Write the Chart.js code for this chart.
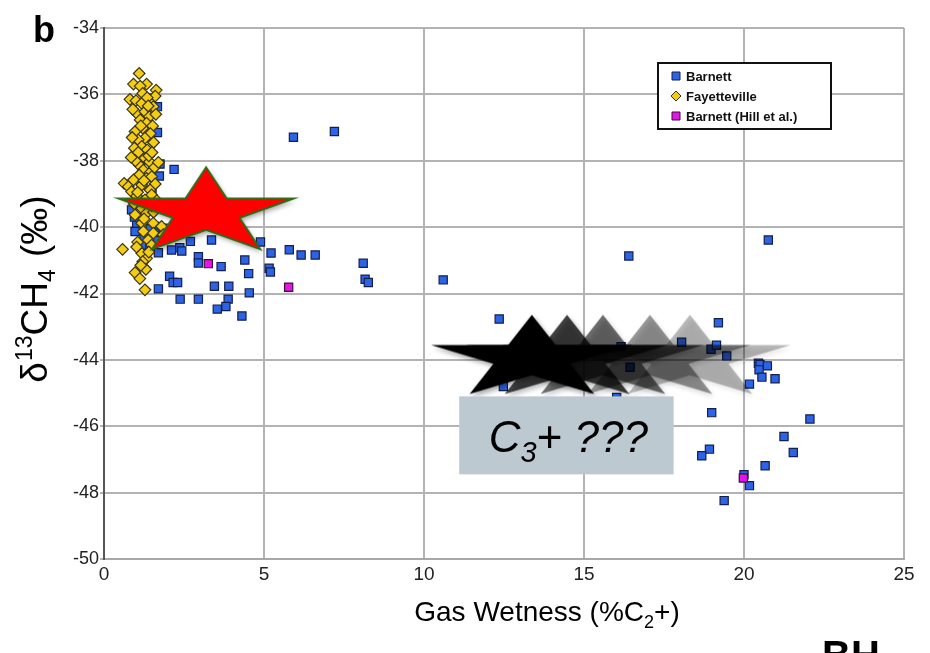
<!DOCTYPE html>
<html>
<head>
<meta charset="utf-8">
<script src="https://cdn.jsdelivr.net/npm/chart.js@4.4.0/dist/chart.umd.min.js"></script>
<style>
  html, body { margin: 0; padding: 0; background: #fff; }
  #wrap { width: 930px; height: 653px; }
</style>
</head>
<body>
<div id="wrap"><canvas id="chart" width="930" height="653"></canvas></div>
<script>
// Barnett shale samples: gas wetness (%C2+) and d13C of methane
const barnettWetness = [1.67, 1.67, 5.92, 7.20, 1.75, 2.19, 1.73, 0.86, 1.02, 0.97, 1.59, 1.70, 1.85, 1.13, 1.33, 1.18,
  1.70, 2.11, 2.37, 2.43, 2.70, 3.36, 4.89, 5.22, 5.79, 6.16, 6.60, 2.95, 2.95, 3.66, 4.40, 4.52, 5.16, 5.20,
  2.05, 2.16, 2.30, 1.70, 3.45, 3.90, 4.54, 2.38, 2.95, 3.88, 3.81, 3.54, 4.31, 8.10, 8.16, 8.26, 10.60,
  16.40, 20.76, 12.35, 12.48, 16.16, 16.44, 16.02, 18.05, 18.97, 19.14, 19.20, 19.46, 20.45, 20.50, 20.73,
  20.47, 20.56, 20.97, 20.17, 18.99, 22.06, 21.25, 21.54, 18.92, 18.68, 20.66, 20.00, 20.17, 19.38,
  1.05, 1.40, 1.55, 1.25, 1.45, 0.95, 1.60, 1.50];
const barnettD13C = [-36.37, -37.15, -37.29, -37.12, -38.10, -38.26, -38.46, -39.48, -39.88, -40.13, -39.98, -40.18, -40.03, -40.59, -40.63, -40.54,
  -40.77, -40.69, -40.62, -40.72, -40.43, -40.39, -40.45, -40.78, -40.68, -40.84, -40.84, -40.89, -41.08, -41.19, -40.99, -41.40, -41.24, -41.35,
  -41.48, -41.67, -41.67, -41.86, -41.78, -41.78, -41.98, -42.17, -42.17, -42.17, -42.39, -42.47, -42.68, -41.09, -41.57, -41.67, -41.59,
  -40.87, -40.39, -42.77, -44.80, -43.60, -44.22, -45.13, -43.47, -43.68, -43.56, -42.88, -43.88, -44.10, -44.14, -44.18,
  -44.30, -44.52, -44.57, -44.73, -45.59, -45.78, -46.31, -46.79, -46.69, -46.89, -47.19, -47.46, -47.79, -48.24,
  -39.20, -39.50, -39.30, -40.30, -40.05, -39.70, -40.40, -38.90];

// Fayetteville shale samples
const fayWetness = [1.10, 0.92, 1.33, 1.13, 1.63, 1.21, 0.81, 1.00, 1.44, 1.18, 1.54, 1.02, 1.28, 1.42, 1.13, 1.33,
  0.90, 1.52, 1.21, 0.97, 1.45, 1.28, 1.07, 1.55, 1.18, 1.35, 0.95, 1.07, 1.28, 1.42, 1.10, 0.98,
  1.23, 1.44, 1.58, 1.10, 1.33, 1.49, 0.92, 0.63, 0.76, 1.18, 1.60, 0.86, 1.44, 1.02, 1.49, 1.28,
  1.65, 0.95, 1.18, 1.33, 0.97, 1.55, 1.18, 1.54, 1.80, 1.23, 1.54, 1.85, 1.38, 1.49, 0.58, 1.18,
  1.33, 1.21, 1.31, 0.97, 1.12, 1.28, 1.40, 1.15, 1.60, 1.35, 0.85, 1.50, 1.05, 1.25, 1.40, 1.05,
  1.62, 0.88, 1.25, 1.48, 1.02, 1.70, 1.15, 1.38];
const fayD13C = [-35.37, -35.69, -35.69, -35.75, -35.87, -35.97, -36.15, -36.19, -36.15, -36.27, -36.37, -36.57, -36.52, -36.67, -36.77, -36.87,
  -36.45, -36.95, -37.02, -37.12, -37.18, -37.32, -37.37, -37.45, -37.57, -37.67, -37.62, -37.75, -37.92, -38.03, -38.13, -38.00,
  -38.28, -38.36, -38.20, -38.43, -38.53, -38.48, -38.58, -38.68, -38.78, -38.73, -38.70, -38.93, -38.88, -39.06, -39.03, -39.18,
  -39.20, -39.30, -39.43, -39.58, -39.63, -39.55, -39.88, -39.88, -39.98, -40.13, -40.18, -40.23, -40.39, -40.54, -40.67, -40.79,
  -40.94, -41.04, -41.27, -41.37, -41.55, -41.89, -37.85, -36.95, -36.05, -36.10, -37.90, -37.75, -38.95, -39.75, -40.75, -40.45,
  -36.60, -37.30, -38.60, -39.35, -40.60, -38.05, -41.15, -36.35];

// Barnett samples from Hill et al.
const hillWetness = [3.26, 5.77, 19.98];
const hillD13C = [-41.10, -41.81, -47.56];

// axis ticks
const xTicks = [0, 5, 10, 15, 20, 25];
const yTicks = [-50, -48, -46, -44, -42, -40, -38, -36, -34];

// star callouts (centre in data units)
const redStarAt = [3.19, -39.56];
const ghostStarsX = [13.37, 14.47, 15.59, 17.06, 18.31];
const ghostStarsY = -43.96;
const ghostAlpha = [1, 0.74, 0.56, 0.4, 0.27];

// grey note box corners, data units
const noteBox = { x0: 11.1, x1: 17.8, y0: -45.1, y1: -47.45 };

const FONT = "'Liberation Sans', Arial, sans-serif";

function pairs(xs, ys) {
  return xs.map((x, i) => ({ x: x, y: ys[i] }));
}

// five pointed star stretched sideways, drawn once into a small canvas
function starCanvas(rx, ry, fill, stroke) {
  const pad = 12;
  const c = document.createElement('canvas');
  c.width = Math.ceil(2 * rx + 2 * pad);
  c.height = Math.ceil(2 * ry + 2 * pad);
  const g = c.getContext('2d');
  const cx = c.width / 2, cy = c.height / 2;
  g.beginPath();
  for (let i = 0; i < 10; i++) {
    const a = -Math.PI / 2 + i * Math.PI / 5;
    const r = i % 2 === 0 ? 1 : 0.382;
    g.lineTo(cx + Math.cos(a) * rx * r, cy + Math.sin(a) * ry * r);
  }
  g.closePath();
  g.shadowColor = 'rgba(0,0,0,0.35)';
  g.shadowBlur = 5;
  g.shadowOffsetX = 2;
  g.shadowOffsetY = 3;
  g.fillStyle = fill;
  g.fill();
  g.shadowColor = 'transparent';
  if (stroke) {
    g.strokeStyle = stroke;
    g.lineWidth = 2;
    g.stroke();
  }
  return c;
}

const redStar = starCanvas(92, 45.3, '#ff0000', '#2f6a14');
const ghostStars = ghostAlpha.map(a => starCanvas(106, 43.8, 'rgba(0,0,0,' + a + ')', null));

// text with sub/superscript pieces
function drawRich(ctx, parts, x, y, align) {
  let total = 0;
  parts.forEach(p => {
    ctx.font = p.font;
    p.w = ctx.measureText(p.t).width + (p.gap || 0);
    total += p.w;
  });
  let cx = align === 'center' ? x - total / 2 : x;
  ctx.textAlign = 'left';
  ctx.textBaseline = 'alphabetic';
  parts.forEach(p => {
    ctx.font = p.font;
    ctx.fillText(p.t, cx, y + (p.dy || 0));
    cx += p.w;
  });
}

const extrasPlugin = {
  id: 'extras',
  afterDatasetsDraw(chart) {
    const ctx = chart.ctx;
    const xs = chart.scales.x, ys = chart.scales.y;
    // note box with "C3+ ???"
    const bx0 = xs.getPixelForValue(noteBox.x0), bx1 = xs.getPixelForValue(noteBox.x1);
    const by0 = ys.getPixelForValue(noteBox.y0), by1 = ys.getPixelForValue(noteBox.y1);
    ctx.save();
    ctx.fillStyle = '#bdc9d1';
    ctx.fillRect(bx0, by0, bx1 - bx0, by1 - by0);
    ctx.fillStyle = '#000';
    drawRich(ctx, [
      { t: 'C', font: 'italic 44px ' + FONT },
      { t: '3', font: 'italic 29px ' + FONT, dy: 10 },
      { t: '+', font: '44px ' + FONT },
      { t: ' ???', font: 'italic 44px ' + FONT }
    ], (bx0 + bx1) / 2 + 2, by0 + 56, 'center');
    ctx.restore();
  },
  afterDraw(chart) {
    const ctx = chart.ctx;
    ctx.save();
    ctx.fillStyle = '#000';

    // panel letter
    ctx.font = 'bold 36px ' + FONT;
    ctx.textAlign = 'left';
    ctx.textBaseline = 'alphabetic';
    ctx.fillText('b', 33, 42);

    // y axis title
    ctx.save();
    ctx.translate(47, 289);
    ctx.rotate(-Math.PI / 2);
    drawRich(ctx, [
      { t: '\u03b4', font: '37px ' + FONT, gap: 1 },
      { t: '13', font: '23px ' + FONT, dy: -15 },
      { t: 'CH', font: '37px ' + FONT },
      { t: '4', font: '23px ' + FONT, dy: 8, gap: 2 },
      { t: ' (\u2030)', font: '37px ' + FONT }
    ], 0, 0, 'center');
    ctx.restore();

    // x axis title
    drawRich(ctx, [
      { t: 'Gas Wetness (%C', font: '28px ' + FONT },
      { t: '2', font: '18px ' + FONT, dy: 7 },
      { t: '+)', font: '28px ' + FONT }
    ], 547, 621, 'center');

    // clipped heading at the bottom edge
    ctx.font = 'bold 40px ' + FONT;
    ctx.fillText('BH', 822, 669);

    // legend
    const lx = 658, ly = 63, lw = 173, lh = 66;
    ctx.fillStyle = '#fff';
    ctx.fillRect(lx, ly, lw, lh);
    ctx.strokeStyle = '#111';
    ctx.lineWidth = 2;
    ctx.strokeRect(lx, ly, lw, lh);
    const rows = [
      { label: 'Barnett', style: 'rect', fill: '#2d63e6', border: '#14204a' },
      { label: 'Fayetteville', style: 'rectRot', fill: '#f3cc14', border: '#3b3410' },
      { label: 'Barnett (Hill et al.)', style: 'rect', fill: '#e614e6', border: '#3a1040' }
    ];
    rows.forEach((r, i) => {
      const cy = ly + 13 + i * 20;
      ctx.fillStyle = r.fill;
      ctx.strokeStyle = r.border;
      ctx.lineWidth = 1;
      ctx.beginPath();
      if (r.style === 'rect') {
        ctx.rect(672, cy - 4, 8, 8);
      } else {
        ctx.moveTo(676, cy - 5); ctx.lineTo(681, cy); ctx.lineTo(676, cy + 5); ctx.lineTo(671, cy); ctx.closePath();
      }
      ctx.fill();
      ctx.stroke();
      ctx.fillStyle = '#111';
      ctx.font = 'bold 13px ' + FONT;
      ctx.textBaseline = 'middle';
      ctx.fillText(r.label, 686, cy + 1);
    });
    ctx.restore();
  }
};

const ctx = document.getElementById('chart').getContext('2d');

new Chart(ctx, {
  type: 'scatter',
  data: {
    datasets: [
      {
        label: 'C3+ ???',
        data: ghostStarsX.map(x => ({ x: x, y: ghostStarsY })).reverse(),
        pointStyle: ghostStars.slice().reverse(),
        radius: 1,
        order: 0
      },
      {
        label: 'star',
        data: [{ x: redStarAt[0], y: redStarAt[1] }],
        pointStyle: redStar,
        radius: 1,
        order: 1
      },
      {
        label: 'Barnett (Hill et al.)',
        data: pairs(hillWetness, hillD13C),
        pointStyle: 'rect',
        radius: 5.8,
        backgroundColor: '#e614e6',
        borderColor: '#3a1040',
        borderWidth: 1.2,
        order: 2
      },
      {
        label: 'Fayetteville',
        data: pairs(fayWetness, fayD13C),
        pointStyle: 'rectRot',
        radius: 5.8,
        backgroundColor: '#f3cc14',
        borderColor: '#3b3410',
        borderWidth: 1.2,
        order: 3
      },
      {
        label: 'Barnett',
        data: pairs(barnettWetness, barnettD13C),
        pointStyle: 'rect',
        radius: 5.8,
        backgroundColor: '#2d63e6',
        borderColor: '#14204a',
        borderWidth: 1.2,
        order: 4
      }
    ]
  },
  options: {
    responsive: false,
    animation: false,
    layout: { padding: { top: 28, right: 26, left: 0, bottom: 0 } },
    plugins: {
      legend: { display: false },
      tooltip: { enabled: false }
    },
    scales: {
      x: {
        type: 'linear',
        min: 0,
        max: 25,
        afterBuildTicks: (scale) => { scale.ticks = xTicks.map(v => ({ value: v })); },
        afterFit: (scale) => { scale.height = 94; },
        ticks: { color: '#222', padding: 4, font: { family: FONT, size: 19 } },
        grid: { color: '#b3b3b3', lineWidth: 2, drawTicks: false },
        border: { color: '#a8a8a8', width: 2 }
      },
      y: {
        type: 'linear',
        min: -50,
        max: -34,
        afterBuildTicks: (scale) => { scale.ticks = yTicks.map(v => ({ value: v })); },
        afterFit: (scale) => { scale.width = 104; },
        ticks: { color: '#222', padding: 1, font: { family: FONT, size: 18 } },
        grid: { color: '#b3b3b3', lineWidth: 2, tickLength: 4 },
        border: { color: '#555', width: 2 }
      }
    }
  },
  plugins: [extrasPlugin]
});
</script>
</body>
</html>
